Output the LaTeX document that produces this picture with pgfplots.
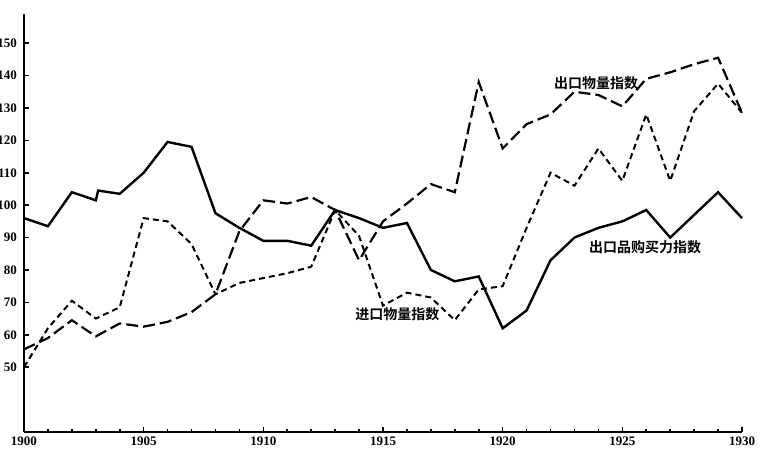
\documentclass[border=0pt]{standalone}
\usepackage{fontspec}
\setmainfont{Liberation Serif}
\newfontfamily\cjk{Noto Sans CJK SC}[BoldFont={* Bold}]
\usepackage{pgfplots}
\pgfplotsset{compat=1.18}

% solid: purchasing power of exports; long dash: export volume; short dash: import volume
\pgfplotstableread{
year power
1900 96
1901 93.5
1902 104
1903 101.5
1903.1 104.5
1904 103.5
1905 110
1906 119.5
1907 118
1908 97.5
1909 93
1910 89
1911 89
1912 87.5
1913 98.5
1914 96
1915 93
1916 94.5
1917 80
1918 76.5
1919 78
1920 62
1921 67.5
1922 83
1923 90
1924 93
1925 95
1926 98.5
1927 90
1928 97
1929 104
1930 96
}\powertab

\pgfplotstableread{
year expvol
1900 55.5
1901 59
1902 64.5
1903 59.5
1904 63.5
1905 62.5
1906 64
1907 67
1908 72.5
1909 92
1910 101.5
1911 100.5
1912 102.5
1913 98.5
1914 83
1915 95
1916 100.5
1917 106.5
1918 104
1919 138
1920 117.5
1921 125
1922 128
1923 135
1924 134
1925 130.5
1926 139
1927 141
1928 143.5
1929 145.5
1930 128.5
}\exptab

\pgfplotstableread{
year impvol
1900 50
1901 62
1902 70.5
1903 65
1904 68.5
1905 96
1906 95
1907 88
1908 72.5
1909 76
1910 77.5
1911 79
1912 81
1913 98.5
1914 90.5
1915 69
1916 73
1917 71.5
1918 64.5
1919 74
1920 75
1921 93
1922 110
1923 106
1924 117.5
1925 107.5
1926 128
1927 107.5
1928 129
1929 137.5
1930 128.5
}\imptab

\begin{document}
\begin{tikzpicture}
\begin{axis}[
    name=ax,
    scale only axis,
    width=359pt, height=209pt,
    xmin=1900, xmax=1930,
    ymin=30, ymax=159,
    axis lines*=left,
    axis line style={line width=1.2pt},
    xtick={1900,1905,...,1930},
    minor xtick={1900,1901,...,1930},
    ytick={50,60,...,150},
    tick align=inside,
    major tick length=2.5pt,
    minor tick length=1.5pt,
    tick style={line width=0.8pt, black},
    /pgf/number format/1000 sep={},
    /pgf/number format/assume math mode=true,
    tick label style={font=\fontsize{6.5}{7}\selectfont\bfseries},
    xticklabel style={yshift=1pt},
    clip=false,
]
\coordinate (ll) at (rel axis cs:0,0);
\coordinate (ur) at (rel axis cs:1,1);

\addplot[black, line width=1.2pt] table[x=year, y=power] {\powertab};
\addplot[black, line width=1.1pt, dash pattern=on 6pt off 2.5pt] table[x=year, y=expvol] {\exptab};
\addplot[black, line width=1.0pt, dash pattern=on 3pt off 2pt] table[x=year, y=impvol] {\imptab};

\node[font=\cjk\bfseries\fontsize{7}{8}\selectfont] at (axis cs:1923.9,137.7) {出口物量指数};
\node[font=\cjk\bfseries\fontsize{7}{8}\selectfont] at (axis cs:1915.6,66.3) {进口物量指数};
\node[font=\cjk\bfseries\fontsize{7}{8}\selectfont] at (axis cs:1925.95,86.9) {出口品购买力指数};
\end{axis}
\pgfresetboundingbox
\path ([xshift=-12pt,yshift=-15.5pt]ll) rectangle ([xshift=9pt,yshift=7pt]ur);
\end{tikzpicture}
\end{document}
